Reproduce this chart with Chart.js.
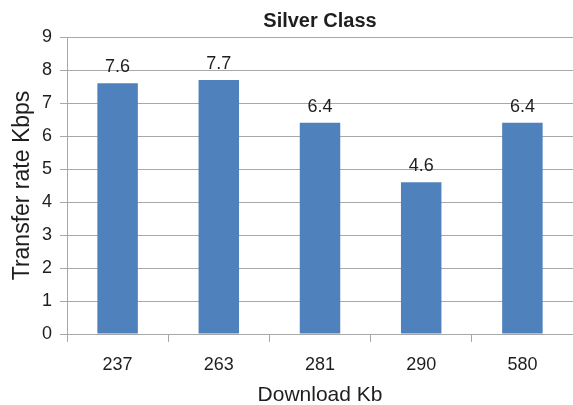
<!DOCTYPE html>
<html>
<head>
<meta charset="utf-8">
<script src="https://cdn.jsdelivr.net/npm/chart.js@4/dist/chart.umd.min.js"></script>
<style>
  html, body { margin: 0; padding: 0; background: #fff; }
  #wrap { width: 573px; height: 405px; }
</style>
</head>
<body>
<div id="wrap"><canvas id="c" width="573" height="405"></canvas></div>
<script>
const categories = ['237', '263', '281', '290', '580'];
const transferRate = [7.6, 7.7, 6.4, 4.6, 6.4];
const yTicks = [0, 1, 2, 3, 4, 5, 6, 7, 8, 9];
const chartTitle = 'Silver Class';

const FONT = "'Liberation Sans', Arial, sans-serif";
const TEXT = '#1e1e1e';
const GRID = '#a8a8a8';

// Writes each bar's value just above its top edge
const valueLabels = {
  id: 'valueLabels',
  afterDatasetsDraw(chart) {
    const ctx = chart.ctx;
    const meta = chart.getDatasetMeta(0);
    ctx.save();
    ctx.font = '18px ' + FONT;
    ctx.fillStyle = TEXT;
    ctx.textAlign = 'center';
    ctx.textBaseline = 'alphabetic';
    meta.data.forEach((bar, i) => {
      ctx.fillText(transferRate[i].toFixed(1), bar.x, bar.y - 11);
    });
    ctx.restore();
  }
};

// Bold heading centred over the plot area
const plotTitle = {
  id: 'plotTitle',
  afterDraw(chart) {
    const ctx = chart.ctx;
    const area = chart.chartArea;
    ctx.save();
    ctx.font = 'bold 20px ' + FONT;
    ctx.fillStyle = TEXT;
    ctx.textAlign = 'center';
    ctx.textBaseline = 'alphabetic';
    ctx.fillText(chartTitle, (area.left + area.right) / 2, 27);
    ctx.restore();
  }
};

new Chart(document.getElementById('c'), {
  type: 'bar',
  data: {
    labels: categories,
    datasets: [{
      data: transferRate,
      backgroundColor: '#4f81bd',
      borderWidth: 0,
      categoryPercentage: 1,
      barPercentage: 0.4
    }]
  },
  options: {
    responsive: false,
    animation: false,
    devicePixelRatio: 1,
    layout: { padding: { top: 37, right: 0, bottom: 0, left: 0 } },
    plugins: {
      legend: { display: false },
      tooltip: { enabled: false },
      title: { display: false }
    },
    scales: {
      x: {
        offset: true,
        afterFit(scale) { scale.height = 71; },
        grid: {
          offset: true,
          drawOnChartArea: false,
          drawTicks: true,
          tickLength: 8,
          color: GRID
        },
        border: { color: GRID, width: 1 },
        ticks: {
          color: TEXT,
          font: { family: FONT, size: 18 },
          padding: 12
        },
        title: {
          display: true,
          text: 'Download Kb',
          color: TEXT,
          font: { family: FONT, size: 21, lineHeight: 0.9 },
          padding: { top: 0, bottom: 0 }
        }
      },
      y: {
        min: 0,
        max: 9,
        afterFit(scale) { scale.width = 67; },
        afterBuildTicks(scale) {
          scale.ticks = yTicks.map(v => ({ value: v }));
        },
        grid: {
          color: GRID,
          tickLength: 7
        },
        border: { color: GRID, width: 1 },
        ticks: {
          color: TEXT,
          font: { family: FONT, size: 18 },
          padding: 8
        },
        title: {
          display: true,
          text: 'Transfer rate Kbps',
          color: TEXT,
          font: { family: FONT, size: 23, lineHeight: 1.2 },
          padding: { top: 9, bottom: 0 }
        }
      }
    }
  },
  plugins: [valueLabels, plotTitle]
});
</script>
</body>
</html>
